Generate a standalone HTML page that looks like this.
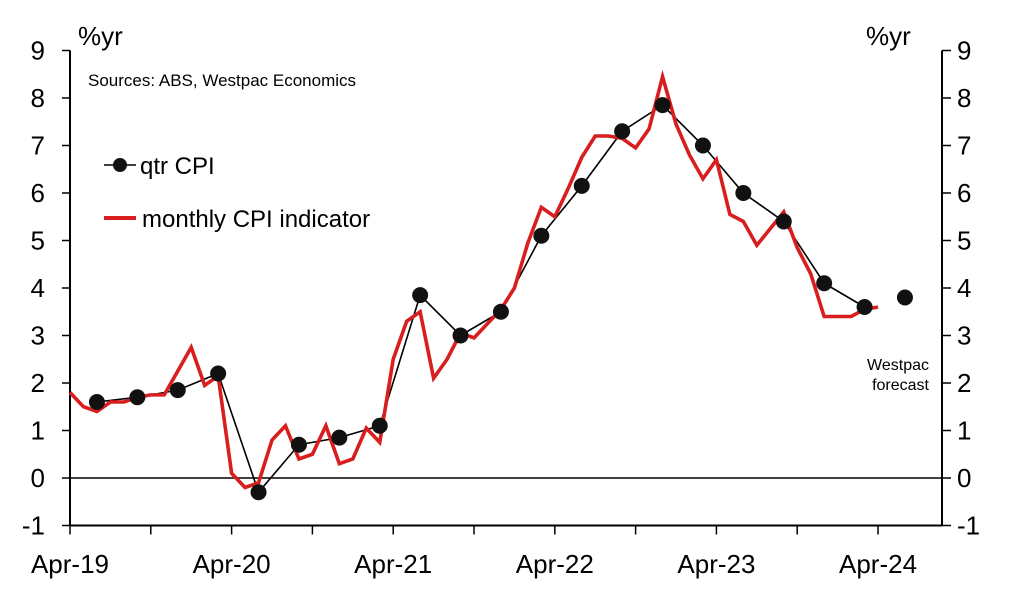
<!DOCTYPE html>
<html><head><meta charset="utf-8"><style>
body{margin:0;background:#fff}
svg{font-family:"Liberation Sans",sans-serif}
</style></head><body>
<svg id="c" width="1016" height="603">
<g id="axes"></g>
<text x="78" y="45" font-size="26">%yr</text>
<text x="866" y="45" font-size="26">%yr</text>
<text x="88" y="86" font-size="17">Sources: ABS, Westpac Economics</text>
<g>
<line x1="104" y1="165" x2="136" y2="165" stroke="#000" stroke-width="1.5"/>
<circle cx="120" cy="165" r="7" fill="#111"/>
<text x="140" y="174" font-size="24">qtr CPI</text>
<line x1="104" y1="218" x2="136" y2="218" stroke="#d81e1e" stroke-width="4"/>
<text x="142" y="227" font-size="24">monthly CPI indicator</text>
</g>
<text x="929" y="370" font-size="16" text-anchor="end">Westpac</text>
<text x="929" y="390" font-size="16" text-anchor="end">forecast</text>
<g id="series"></g>
</svg>
<script>
const monthly=[1.8,1.5,1.4,1.6,1.6,1.7,1.75,1.75,2.25,
2.75,1.95,2.15,0.1,-0.2,-0.1,0.8,1.1,0.4,0.5,1.1,0.3,
0.4,1.05,0.75,2.5,3.3,3.5,2.1,2.5,3.05,2.95,3.25,3.55,
4.0,4.95,5.7,5.5,6.1,6.75,7.2,7.2,7.15,6.95,7.35,8.45,
7.45,6.8,6.3,6.7,5.55,5.4,4.9,5.25,5.6,4.85,4.3,3.4,
3.4,3.4,3.55,3.6];
const quarterly=[1.6,1.7,1.85,2.2,-0.3,0.7,0.85,1.1,3.85,3.0,3.5,5.1,6.15,7.3,7.85,7.0,6.0,5.4,4.1,3.6];
const forecast=[3.8];
const yTicks=[9,8,7,6,5,4,3,2,1,0,-1];
const xLabels=["Apr-19","Apr-20","Apr-21","Apr-22","Apr-23","Apr-24"];
const NS="http://www.w3.org/2000/svg";
const X=m=>70+m*13.467;
const Y=v=>478-47.5*v;
function mk(tag,at,parent){const e=document.createElementNS(NS,tag);for(const k in at)e.setAttribute(k,at[k]);parent.appendChild(e);return e;}
const ax=document.getElementById('axes'), se=document.getElementById('series');
let e;
e=mk('line',{x1:70,y1:Y(9),x2:70,y2:Y(-1),stroke:'#000','stroke-width':2},ax);


e=mk('line',{x1:942,y1:Y(9),x2:942,y2:Y(-1),stroke:'#000','stroke-width':2},ax);


e=mk('line',{x1:70,y1:Y(-1),x2:942,y2:Y(-1),stroke:'#000','stroke-width':2},ax);


e=mk('line',{x1:70,y1:Y(0),x2:942,y2:Y(0),stroke:'#000','stroke-width':1.5},ax);


yTicks.forEach(v=>{
 mk('line',{x1:62,y1:Y(v),x2:70,y2:Y(v),stroke:'#000','stroke-width':1.5},ax);
 mk('line',{x1:942,y1:Y(v),x2:951,y2:Y(v),stroke:'#000','stroke-width':1.5},ax);
 let t=mk('text',{x:45,y:Y(v)+9,'font-size':26,'text-anchor':'end'},ax);t.textContent=v;
 
 
 t=mk('text',{x:957,y:Y(v)+9,'font-size':26},ax);t.textContent=v;
 
 
});
for(let m=0;m<=64;m+=6){if(X(m)<=943)mk('line',{x1:X(m),y1:Y(-1),x2:X(m),y2:Y(-1)+9,stroke:'#000','stroke-width':1.5},ax);}
xLabels.forEach((l,i)=>{let t=mk('text',{x:X(i*12),y:573,'font-size':26,'text-anchor':'middle'},ax);t.textContent=l;
 
 });
e=mk('polyline',{points:quarterly.map((v,i)=>X(2+3*i)+','+Y(v)).join(' '),fill:'none',stroke:'#000','stroke-width':1.6},se);


e=mk('polyline',{points:monthly.map((v,i)=>X(i)+','+Y(v)).join(' '),fill:'none',stroke:'#d81e1e','stroke-width':3.6,'stroke-linejoin':'miter'},se);


quarterly.forEach((v,i)=>{const c=mk('circle',{cx:X(2+3*i),cy:Y(v),r:8,fill:'#111'},se);
 
 });
forecast.forEach((v,i)=>{const c=mk('circle',{cx:X(2+3*(quarterly.length+i)),cy:Y(v),r:8,fill:'#111'},se);
 
 });
</script>
</body></html>
